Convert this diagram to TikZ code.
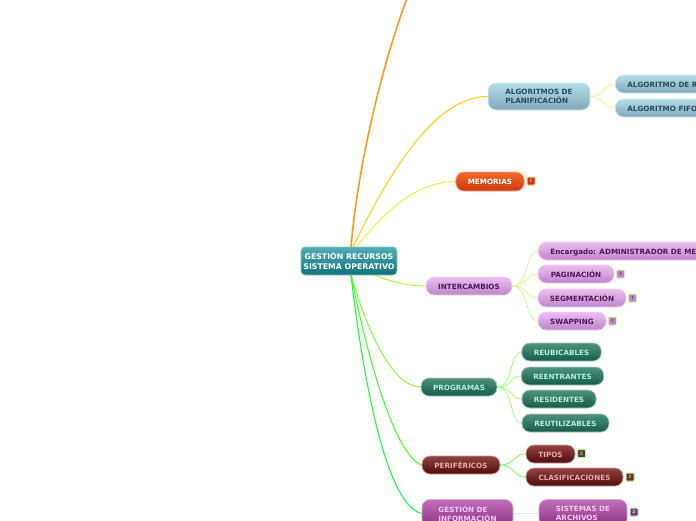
\documentclass[tikz,border=0pt]{standalone}
\usepackage{fontspec}
\setmainfont{DejaVu Sans}
\usetikzlibrary{positioning,calc,backgrounds}

\definecolor{rootA}{HTML}{52ADB5}
\definecolor{rootB}{HTML}{0F7178}
\definecolor{algoA}{HTML}{B4DCE8}
\definecolor{algoB}{HTML}{7FAABA}
\definecolor{algoT}{HTML}{2B4A5E}
\definecolor{memA}{HTML}{F46A28}
\definecolor{memB}{HTML}{C93A10}
\definecolor{interA}{HTML}{EDBDF2}
\definecolor{interB}{HTML}{BE86C9}
\definecolor{interT}{HTML}{4A1A5A}
\definecolor{progA}{HTML}{4F917F}
\definecolor{progB}{HTML}{155C48}
\definecolor{progT}{HTML}{B0F0DC}
\definecolor{periA}{HTML}{944242}
\definecolor{periB}{HTML}{4F0C0C}
\definecolor{periT}{HTML}{E8A8A8}
\definecolor{infoA}{HTML}{C06EB8}
\definecolor{infoB}{HTML}{87307F}
\definecolor{infoT}{HTML}{F8C8F4}
\definecolor{lineA}{HTML}{FF9A1F}
\definecolor{lineB}{HTML}{FFD21F}
\definecolor{lineC}{HTML}{E8F52E}
\definecolor{lineD}{HTML}{A8F52E}
\definecolor{lineE}{HTML}{7CFF33}
\definecolor{lineF}{HTML}{4CFF33}
\definecolor{lineG}{HTML}{22F83C}

\tikzset{
  topic/.style={rounded corners=8pt, minimum height=18pt, inner xsep=12pt, inner ysep=0pt,
    text height=6.8pt, text depth=0pt, line width=0.8pt,
    font=\fontsize{7.2}{9}\selectfont\bfseries},
  twolines/.style={text height=, text depth=, align=left},
  rootbox/.style={topic, twolines, align=center, inner xsep=0pt, rounded corners=4pt,
    minimum width=96pt, minimum height=28pt, font=\fontsize{7.8}{10}\selectfont\bfseries,
    top color=rootA, bottom color=rootB, draw=rootA!70, text=white},
  algobox/.style={topic, top color=algoA, bottom color=algoB, draw=algoA!60, text=algoT},
  membox/.style={topic, top color=memA, bottom color=memB, draw=memA!60, text=white},
  interbox/.style={topic, top color=interA, bottom color=interB, draw=interA!70, text=interT},
  progbox/.style={topic, top color=progA, bottom color=progB, draw=progA!50, text=progT},
  peribox/.style={topic, top color=periA, bottom color=periB, draw=periA!50, text=periT},
  infobox/.style={topic, top color=infoA, bottom color=infoB, draw=infoA!60, text=infoT},
  flag/.style={minimum size=8pt, inner sep=0pt, rounded corners=1pt, line width=1pt,
    font=\fontsize{4.5}{5}\selectfont\bfseries},
  branch/.style={line width=#1, line cap=round},
  branch/.default=0.9pt,
  twig/.style={line width=0.7pt}
}

\begin{document}
\begin{tikzpicture}[x=1pt,y=1pt]
\useasboundingbox (0,0) rectangle (696,-520);
\clip (0,0) rectangle (696,-520);

\node[rootbox] (root) at (349,-261) {GESTIÓN RECURSOS\\SISTEMA OPERATIVO};
\coordinate (offtop) at (407.5,3);
\coordinate (hubtop) at (351,-247);
\coordinate (hubup) at (353,-247);
\coordinate (hubmem) at (356,-247);
\coordinate (hubdown) at (351,-275);
\coordinate (hubside) at (368,-272);

\node[algobox, minimum width=102pt, minimum height=27pt, twolines] (algos) at (539,-96.5) {ALGORITMOS DE\\PLANIFICACIÓN};
\node[algobox, anchor=west] (algoR) at (615,-84) {ALGORITMO DE R};
\node[algobox, anchor=west] (algoF) at (615,-108) {ALGORITMO FIFO};

\node[membox, minimum width=68pt, minimum height=19pt] (mem) at (490,-181.5) {MEMORIAS};

\node[interbox, minimum width=86pt] (inter) at (469,-286) {INTERCAMBIOS};
\node[interbox, anchor=west] (encar) at (538,-251) {Encargado: ADMINISTRADOR DE MEM};
\node[interbox, minimum width=76pt] (pagi) at (576,-274) {PAGINACIÓN};
\node[interbox, minimum width=88pt] (segm) at (582,-298) {SEGMENTACIÓN};
\node[interbox, minimum width=68pt] (swap) at (572,-321) {SWAPPING};

\node[progbox, minimum width=74pt] (prog) at (459,-387) {PROGRAMAS};
\node[progbox, minimum width=79pt] (reub) at (561.5,-352) {REUBICABLES};
\node[progbox, minimum width=81pt] (reen) at (562.5,-376) {REENTRANTES};
\node[progbox, minimum width=74pt] (resi) at (559,-399) {RESIDENTES};
\node[progbox, minimum width=87pt] (reut) at (565.5,-423) {REUTILIZABLES};

\node[peribox, minimum width=78pt] (peri) at (461,-465) {PERIFÉRICOS};
\node[peribox, minimum width=49pt] (tipos) at (550.5,-454) {TIPOS};
\node[peribox, minimum width=97pt] (clas) at (574.5,-477) {CLASIFICACIONES};

\node[infobox, minimum width=91pt, minimum height=28pt, twolines, inner xsep=16pt] (info) at (467.5,-513.5) {GESTIÓN DE\\INFORMACIÓN};
\node[infobox, minimum width=88pt, minimum height=28pt, twolines, inner xsep=16pt] (sist) at (583,-513.5) {SISTEMAS DE\\ARCHIVOS};

% flags
\node[flag, fill=memB, draw=yellow!35!orange!50, text=white] (fmem) at (531,-181) {!};
\node[flag, fill=interB, draw=lineD!50, text=interT] (fpagi) at (620.5,-274) {!};
\node[flag, fill=interB, draw=lineD!50, text=interT] (fsegm) at (632.5,-298) {!};
\node[flag, fill=interB, draw=lineD!50, text=interT] (fswap) at (612.5,-321) {!};
\node[flag, fill=periB!85, draw=lineF!55, text=periT] (ftipos) at (581.5,-453.5) {2};
\node[flag, fill=periB!85, draw=lineF!55, text=periT] (fclas) at (630,-477) {2};
\node[flag, fill=infoB, draw=lineG!45, text=infoT] (fsist) at (634,-512) {2};

\begin{scope}[on background layer]
% main branches
\draw[branch=1.6pt, lineA] (hubtop) .. controls (358,-165) and (382,-65) .. (offtop);
\draw[branch=1.1pt, lineB] (hubup) .. controls (395,-160) and (440,-96) .. (algos.west);
\draw[branch, lineC] (hubmem) .. controls (385,-212) and (415,-182) .. (mem.west);
\draw[branch, lineD] (hubside) .. controls (385,-280) and (405,-286) .. (inter.west);
\draw[branch, lineE] (hubdown) .. controls (370,-340) and (395,-387) .. (prog.west);
\draw[branch=1.1pt, lineF] (hubdown) .. controls (368,-360) and (395,-455) .. (peri.west);
\draw[branch=1.1pt, lineG] (hubdown) .. controls (362,-370) and (385,-505) .. (info.west);

% sub branches
\foreach \to in {algoR,algoF}
  \draw[twig, lineB!55] (algos.east) .. controls ($(algos.east)+(14,0)$) and ($(\to.west)+(-12,0)$) .. (\to.west);
\foreach \to in {encar,pagi,segm,swap}
  \draw[twig, lineD!55] (inter.east) .. controls ($(inter.east)+(16,0)$) and ($(\to.west)+(-12,0)$) .. (\to.west);
\foreach \to in {reub,reen,resi,reut}
  \draw[twig, lineE!70] (prog.east) .. controls ($(prog.east)+(16,0)$) and ($(\to.west)+(-12,0)$) .. (\to.west);
\foreach \to in {tipos,clas}
  \draw[twig, lineF!80] (peri.east) .. controls ($(peri.east)+(14,0)$) and ($(\to.west)+(-12,0)$) .. (\to.west);
\draw[branch=1.8pt, lineG!25] (info.east) -- (sist.west);
\end{scope}
\end{tikzpicture}
\end{document}
